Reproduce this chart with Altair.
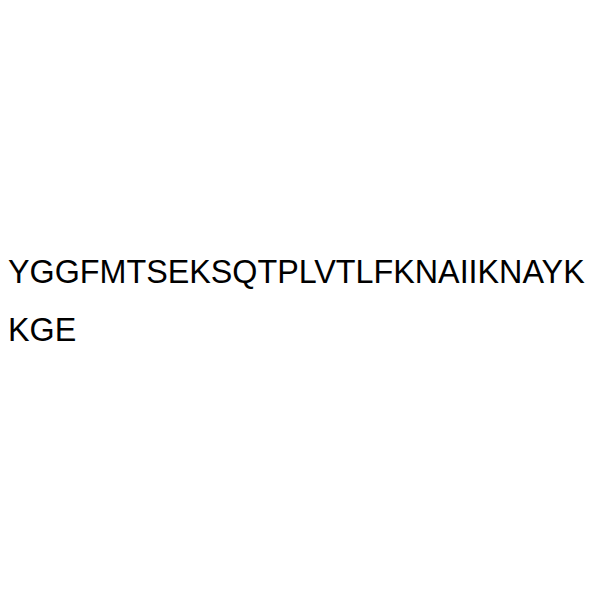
import altair as alt
import pandas as pd

lines = ["YGGFMTSEKSQTPLVTLFKNAIIKNAYK", "KGE"]
rows = [0, 1]
cols = [0, 0]

df = pd.DataFrame({"text": lines, "row": rows, "col": cols})

chart = alt.Chart(df).mark_text(
    align="left",
    baseline="alphabetic",
    font="Liberation Sans",
    fontSize=32.3,
    color="#000000",
).encode(
    x=alt.X("col:Q", scale=alt.Scale(domain=[0, 1], range=[0, 584]), axis=None),
    y=alt.Y("row:Q", scale=alt.Scale(domain=[0, 1], range=[275, 332.5]), axis=None),
    text="text:N",
).properties(
    width=584,
    height=584,
    padding=0,
    autosize=alt.AutoSizeParams(type="none"),
    background="white",
).configure_view(stroke=None)

chart.save("out.html", embed_options={"renderer": "svg", "actions": False})
